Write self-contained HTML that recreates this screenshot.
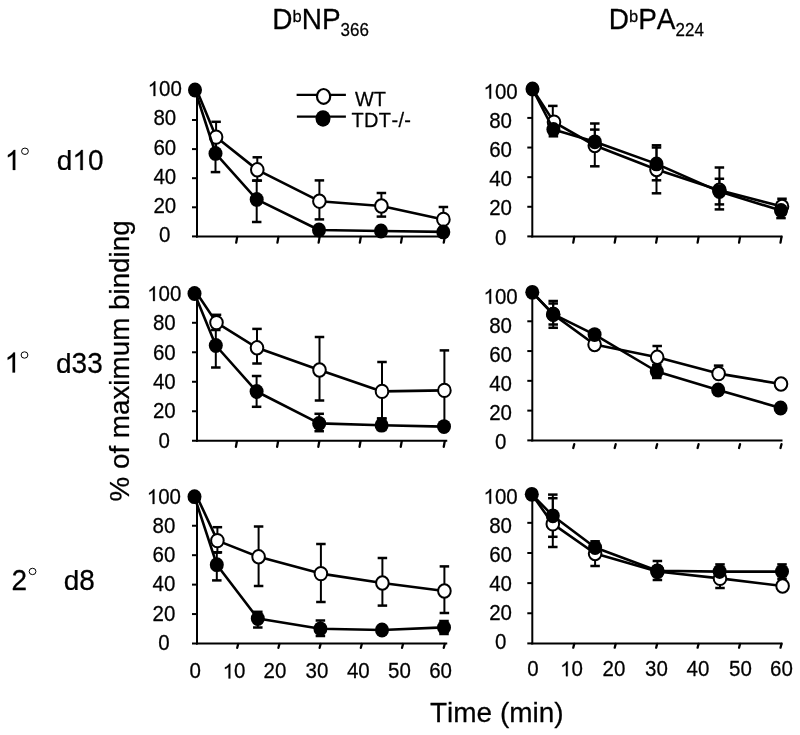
<!DOCTYPE html>
<html><head><meta charset="utf-8"><title>Chart</title>
<style>
html,body{margin:0;padding:0;background:#fff;}
body{width:800px;height:735px;overflow:hidden;position:relative;font-family:"Liberation Sans", sans-serif;color:#000;}
svg{position:absolute;left:0;top:0;will-change:transform;}
text{font-kerning:none;}
.t{position:absolute;white-space:nowrap;line-height:1;font-family:"Liberation Sans", sans-serif;}
</style></head><body>
<svg width="800" height="735" viewBox="0 0 800 735" font-family='"Liberation Sans", sans-serif' stroke="#000" fill="#000">
<g stroke="#000">
<line x1="197" y1="89.9" x2="197" y2="237.4" stroke-width="2.0"/>
<line x1="196" y1="236.4" x2="447.25" y2="236.4" stroke-width="2.0"/>
<line x1="192" y1="236.4" x2="197" y2="236.4" stroke-width="2.0"/>
<line x1="192" y1="207.3" x2="197" y2="207.3" stroke-width="2.0"/>
<line x1="192" y1="178.2" x2="197" y2="178.2" stroke-width="2.0"/>
<line x1="192" y1="149.1" x2="197" y2="149.1" stroke-width="2.0"/>
<line x1="192" y1="120" x2="197" y2="120" stroke-width="2.0"/>
<line x1="192" y1="90.9" x2="197" y2="90.9" stroke-width="2.0"/>
<line x1="237.21" y1="236.9" x2="236.21" y2="242.6" stroke-width="2.3" stroke-linecap="round"/>
<line x1="278.42" y1="236.9" x2="277.42" y2="242.6" stroke-width="2.3" stroke-linecap="round"/>
<line x1="319.62" y1="236.9" x2="318.62" y2="242.6" stroke-width="2.3" stroke-linecap="round"/>
<line x1="360.83" y1="236.9" x2="359.83" y2="242.6" stroke-width="2.3" stroke-linecap="round"/>
<line x1="402.04" y1="236.9" x2="401.04" y2="242.6" stroke-width="2.3" stroke-linecap="round"/>
<line x1="444.75" y1="236.9" x2="443.75" y2="242.6" stroke-width="2.3" stroke-linecap="round"/>
<text stroke-width="0.25" stroke-linejoin="round" transform="translate(159.1,242.3) scale(1,1.035)" font-size="20.5">0</text>
<text stroke-width="0.25" stroke-linejoin="round" transform="translate(153.4,213.06) scale(1,1.035)" font-size="20.5">20</text>
<text stroke-width="0.25" stroke-linejoin="round" transform="translate(153.4,183.82) scale(1,1.035)" font-size="20.5">40</text>
<text stroke-width="0.25" stroke-linejoin="round" transform="translate(153.4,154.58) scale(1,1.035)" font-size="20.5">60</text>
<text stroke-width="0.25" stroke-linejoin="round" transform="translate(153.4,125.34) scale(1,1.035)" font-size="20.5">80</text>
<path stroke-width="25.0" stroke-linejoin="round" transform="translate(147.7,96.1) scale(0.01001,-0.01001)" d="M763 0H583V1147Q518 1085 412.5 1023Q307 961 223 930V1104Q374 1175 487 1276Q600 1377 647 1472H763Z"/>
<text stroke-width="0.25" stroke-linejoin="round" transform="translate(159.1,96.1) scale(1,1.035)" font-size="20.5">00</text>
<line x1="216.1" y1="121.8" x2="216.1" y2="152.4" stroke-width="2.0"/>
<line x1="211.35" y1="121.8" x2="220.85" y2="121.8" stroke-width="2.5"/>
<line x1="211.35" y1="152.4" x2="220.85" y2="152.4" stroke-width="2.5"/>
<line x1="257.3" y1="157.3" x2="257.3" y2="180.6" stroke-width="2.0"/>
<line x1="252.55" y1="157.3" x2="262.05" y2="157.3" stroke-width="2.5"/>
<line x1="252.55" y1="180.6" x2="262.05" y2="180.6" stroke-width="2.5"/>
<line x1="319.4" y1="180.4" x2="319.4" y2="219.4" stroke-width="2.0"/>
<line x1="314.65" y1="180.4" x2="324.15" y2="180.4" stroke-width="2.5"/>
<line x1="314.65" y1="219.4" x2="324.15" y2="219.4" stroke-width="2.5"/>
<line x1="381.4" y1="193" x2="381.4" y2="216.6" stroke-width="2.0"/>
<line x1="376.65" y1="193" x2="386.15" y2="193" stroke-width="2.5"/>
<line x1="376.65" y1="216.6" x2="386.15" y2="216.6" stroke-width="2.5"/>
<line x1="443.4" y1="207" x2="443.4" y2="231" stroke-width="2.0"/>
<line x1="438.65" y1="207" x2="448.15" y2="207" stroke-width="2.5"/>
<line x1="438.65" y1="231" x2="448.15" y2="231" stroke-width="2.5"/>
<line x1="215.5" y1="136" x2="215.5" y2="172.1" stroke-width="2.0"/>
<line x1="210.75" y1="136" x2="220.25" y2="136" stroke-width="2.5"/>
<line x1="210.75" y1="172.1" x2="220.25" y2="172.1" stroke-width="2.5"/>
<line x1="256.7" y1="180.6" x2="256.7" y2="222" stroke-width="2.0"/>
<line x1="251.95" y1="180.6" x2="261.45" y2="180.6" stroke-width="2.5"/>
<line x1="251.95" y1="222" x2="261.45" y2="222" stroke-width="2.5"/>
<polyline points="197,90.8 216.1,137.1 257.3,169.8 319.4,201.2 381.4,206 443.4,219.4" fill="none" stroke-width="2.6" stroke-linejoin="round"/>
<ellipse cx="216.1" cy="137.1" rx="6.3" ry="6.7" fill="#fff" stroke-width="2.0"/>
<ellipse cx="257.3" cy="169.8" rx="6.3" ry="6.7" fill="#fff" stroke-width="2.0"/>
<ellipse cx="319.4" cy="201.2" rx="6.3" ry="6.7" fill="#fff" stroke-width="2.0"/>
<ellipse cx="381.4" cy="206" rx="6.3" ry="6.7" fill="#fff" stroke-width="2.0"/>
<ellipse cx="443.4" cy="219.4" rx="6.3" ry="6.7" fill="#fff" stroke-width="2.0"/>
<polyline points="195,90 215.5,153.4 256.7,199.4 319,230 381,231 443.3,231.9" fill="none" stroke-width="2.6" stroke-linejoin="round"/>
<ellipse cx="195" cy="90" rx="7.0" ry="7.4" fill="#000" stroke="none"/>
<ellipse cx="215.5" cy="153.4" rx="7.0" ry="7.4" fill="#000" stroke="none"/>
<ellipse cx="256.7" cy="199.4" rx="7.0" ry="7.4" fill="#000" stroke="none"/>
<ellipse cx="319" cy="230" rx="7.0" ry="7.4" fill="#000" stroke="none"/>
<ellipse cx="381" cy="231" rx="7.0" ry="7.4" fill="#000" stroke="none"/>
<ellipse cx="443.3" cy="231.9" rx="7.0" ry="7.4" fill="#000" stroke="none"/>
<line x1="532.3" y1="87.3" x2="532.3" y2="237.4" stroke-width="2.0"/>
<line x1="531.3" y1="236.4" x2="782.5" y2="236.4" stroke-width="2.0"/>
<line x1="527.3" y1="236.4" x2="532.3" y2="236.4" stroke-width="2.0"/>
<line x1="527.3" y1="206.78" x2="532.3" y2="206.78" stroke-width="2.0"/>
<line x1="527.3" y1="177.16" x2="532.3" y2="177.16" stroke-width="2.0"/>
<line x1="527.3" y1="147.54" x2="532.3" y2="147.54" stroke-width="2.0"/>
<line x1="527.3" y1="117.92" x2="532.3" y2="117.92" stroke-width="2.0"/>
<line x1="527.3" y1="88.3" x2="532.3" y2="88.3" stroke-width="2.0"/>
<line x1="574.25" y1="236.9" x2="573.25" y2="242.6" stroke-width="2.3" stroke-linecap="round"/>
<line x1="615.7" y1="236.9" x2="614.7" y2="242.6" stroke-width="2.3" stroke-linecap="round"/>
<line x1="657.15" y1="236.9" x2="656.15" y2="242.6" stroke-width="2.3" stroke-linecap="round"/>
<line x1="698.6" y1="236.9" x2="697.6" y2="242.6" stroke-width="2.3" stroke-linecap="round"/>
<line x1="740.05" y1="236.9" x2="739.05" y2="242.6" stroke-width="2.3" stroke-linecap="round"/>
<line x1="781.5" y1="236.9" x2="780.5" y2="242.6" stroke-width="2.3" stroke-linecap="round"/>
<text stroke-width="0.25" stroke-linejoin="round" transform="translate(494.9,244.7) scale(1,1.035)" font-size="20.5">0</text>
<text stroke-width="0.25" stroke-linejoin="round" transform="translate(489.2,215.49) scale(1,1.035)" font-size="20.5">20</text>
<text stroke-width="0.25" stroke-linejoin="round" transform="translate(489.2,186.28) scale(1,1.035)" font-size="20.5">40</text>
<text stroke-width="0.25" stroke-linejoin="round" transform="translate(489.2,157.07) scale(1,1.035)" font-size="20.5">60</text>
<text stroke-width="0.25" stroke-linejoin="round" transform="translate(489.2,127.86) scale(1,1.035)" font-size="20.5">80</text>
<path stroke-width="25.0" stroke-linejoin="round" transform="translate(483.5,98.65) scale(0.01001,-0.01001)" d="M763 0H583V1147Q518 1085 412.5 1023Q307 961 223 930V1104Q374 1175 487 1276Q600 1377 647 1472H763Z"/>
<text stroke-width="0.25" stroke-linejoin="round" transform="translate(494.9,98.65) scale(1,1.035)" font-size="20.5">00</text>
<line x1="552.8" y1="105.9" x2="552.8" y2="128" stroke-width="2.0"/>
<line x1="548.05" y1="105.9" x2="557.55" y2="105.9" stroke-width="2.5"/>
<line x1="548.05" y1="128" x2="557.55" y2="128" stroke-width="2.5"/>
<line x1="594.8" y1="123.5" x2="594.8" y2="166.3" stroke-width="2.0"/>
<line x1="590.05" y1="123.5" x2="599.55" y2="123.5" stroke-width="2.5"/>
<line x1="590.05" y1="166.3" x2="599.55" y2="166.3" stroke-width="2.5"/>
<line x1="656.5" y1="145.3" x2="656.5" y2="193.3" stroke-width="2.0"/>
<line x1="651.75" y1="145.3" x2="661.25" y2="145.3" stroke-width="2.5"/>
<line x1="651.75" y1="193.3" x2="661.25" y2="193.3" stroke-width="2.5"/>
<line x1="719.4" y1="167.5" x2="719.4" y2="209.4" stroke-width="2.0"/>
<line x1="714.65" y1="167.5" x2="724.15" y2="167.5" stroke-width="2.5"/>
<line x1="714.65" y1="209.4" x2="724.15" y2="209.4" stroke-width="2.5"/>
<line x1="782" y1="198.75" x2="782" y2="214" stroke-width="2.0"/>
<line x1="777.25" y1="198.75" x2="786.75" y2="198.75" stroke-width="2.5"/>
<line x1="777.25" y1="214" x2="786.75" y2="214" stroke-width="2.5"/>
<line x1="553.4" y1="122" x2="553.4" y2="136.3" stroke-width="2.0"/>
<line x1="548.65" y1="122" x2="558.15" y2="122" stroke-width="2.5"/>
<line x1="548.65" y1="136.3" x2="558.15" y2="136.3" stroke-width="2.5"/>
<line x1="594.8" y1="129.6" x2="594.8" y2="149" stroke-width="2.0"/>
<line x1="590.05" y1="129.6" x2="599.55" y2="129.6" stroke-width="2.5"/>
<line x1="590.05" y1="149" x2="599.55" y2="149" stroke-width="2.5"/>
<line x1="656.5" y1="147.5" x2="656.5" y2="180.3" stroke-width="2.0"/>
<line x1="651.75" y1="147.5" x2="661.25" y2="147.5" stroke-width="2.5"/>
<line x1="651.75" y1="180.3" x2="661.25" y2="180.3" stroke-width="2.5"/>
<line x1="719.4" y1="178.75" x2="719.4" y2="204.4" stroke-width="2.0"/>
<line x1="714.65" y1="178.75" x2="724.15" y2="178.75" stroke-width="2.5"/>
<line x1="714.65" y1="204.4" x2="724.15" y2="204.4" stroke-width="2.5"/>
<line x1="781" y1="203" x2="781" y2="218.1" stroke-width="2.0"/>
<line x1="776.25" y1="203" x2="785.75" y2="203" stroke-width="2.5"/>
<line x1="776.25" y1="218.1" x2="785.75" y2="218.1" stroke-width="2.5"/>
<polyline points="532.5,89 554,122.1 594.8,145.5 656.5,169.5 719.4,190.2 782,206.5" fill="none" stroke-width="2.6" stroke-linejoin="round"/>
<ellipse cx="554" cy="122.1" rx="6.3" ry="6.7" fill="#fff" stroke-width="2.0"/>
<ellipse cx="594.8" cy="145.5" rx="6.3" ry="6.7" fill="#fff" stroke-width="2.0"/>
<ellipse cx="656.5" cy="169.5" rx="6.3" ry="6.7" fill="#fff" stroke-width="2.0"/>
<ellipse cx="719.4" cy="190.2" rx="6.3" ry="6.7" fill="#fff" stroke-width="2.0"/>
<ellipse cx="782" cy="206.5" rx="6.3" ry="6.7" fill="#fff" stroke-width="2.0"/>
<polyline points="532.5,89 553.4,129.5 594.8,141.8 656.5,163.9 719.4,191.6 781,210.5" fill="none" stroke-width="2.6" stroke-linejoin="round"/>
<ellipse cx="532.5" cy="89" rx="7.0" ry="7.4" fill="#000" stroke="none"/>
<ellipse cx="553.4" cy="129.5" rx="7.0" ry="7.4" fill="#000" stroke="none"/>
<ellipse cx="594.8" cy="141.8" rx="7.0" ry="7.4" fill="#000" stroke="none"/>
<ellipse cx="656.5" cy="163.9" rx="7.0" ry="7.4" fill="#000" stroke="none"/>
<ellipse cx="719.4" cy="191.6" rx="7.0" ry="7.4" fill="#000" stroke="none"/>
<ellipse cx="781" cy="210.5" rx="7.0" ry="7.4" fill="#000" stroke="none"/>
<line x1="197" y1="292.3" x2="197" y2="441.75" stroke-width="2.0"/>
<line x1="196" y1="440.75" x2="447.25" y2="440.75" stroke-width="2.0"/>
<line x1="192" y1="440.75" x2="197" y2="440.75" stroke-width="2.0"/>
<line x1="192" y1="411.26" x2="197" y2="411.26" stroke-width="2.0"/>
<line x1="192" y1="381.77" x2="197" y2="381.77" stroke-width="2.0"/>
<line x1="192" y1="352.28" x2="197" y2="352.28" stroke-width="2.0"/>
<line x1="192" y1="322.79" x2="197" y2="322.79" stroke-width="2.0"/>
<line x1="192" y1="293.3" x2="197" y2="293.3" stroke-width="2.0"/>
<line x1="236.91" y1="441.25" x2="235.91" y2="446.75" stroke-width="2.3" stroke-linecap="round"/>
<line x1="278.12" y1="441.25" x2="277.12" y2="446.75" stroke-width="2.3" stroke-linecap="round"/>
<line x1="319.32" y1="441.25" x2="318.32" y2="446.75" stroke-width="2.3" stroke-linecap="round"/>
<line x1="360.53" y1="441.25" x2="359.53" y2="446.75" stroke-width="2.3" stroke-linecap="round"/>
<line x1="401.74" y1="441.25" x2="400.74" y2="446.75" stroke-width="2.3" stroke-linecap="round"/>
<line x1="444.75" y1="441.25" x2="443.75" y2="446.75" stroke-width="2.3" stroke-linecap="round"/>
<text stroke-width="0.25" stroke-linejoin="round" transform="translate(158.6,447.8) scale(1,1.035)" font-size="20.5">0</text>
<text stroke-width="0.25" stroke-linejoin="round" transform="translate(152.9,418.46) scale(1,1.035)" font-size="20.5">20</text>
<text stroke-width="0.25" stroke-linejoin="round" transform="translate(152.9,389.12) scale(1,1.035)" font-size="20.5">40</text>
<text stroke-width="0.25" stroke-linejoin="round" transform="translate(152.9,359.78) scale(1,1.035)" font-size="20.5">60</text>
<text stroke-width="0.25" stroke-linejoin="round" transform="translate(152.9,330.44) scale(1,1.035)" font-size="20.5">80</text>
<path stroke-width="25.0" stroke-linejoin="round" transform="translate(147.2,301.1) scale(0.01001,-0.01001)" d="M763 0H583V1147Q518 1085 412.5 1023Q307 961 223 930V1104Q374 1175 487 1276Q600 1377 647 1472H763Z"/>
<text stroke-width="0.25" stroke-linejoin="round" transform="translate(158.6,301.1) scale(1,1.035)" font-size="20.5">00</text>
<line x1="216.5" y1="314.8" x2="216.5" y2="326" stroke-width="2.0"/>
<line x1="211.75" y1="314.8" x2="221.25" y2="314.8" stroke-width="2.5"/>
<line x1="211.75" y1="326" x2="221.25" y2="326" stroke-width="2.5"/>
<line x1="257" y1="328.9" x2="257" y2="363.5" stroke-width="2.0"/>
<line x1="252.25" y1="328.9" x2="261.75" y2="328.9" stroke-width="2.5"/>
<line x1="252.25" y1="363.5" x2="261.75" y2="363.5" stroke-width="2.5"/>
<line x1="319.5" y1="337" x2="319.5" y2="400.5" stroke-width="2.0"/>
<line x1="314.75" y1="337" x2="324.25" y2="337" stroke-width="2.5"/>
<line x1="314.75" y1="400.5" x2="324.25" y2="400.5" stroke-width="2.5"/>
<line x1="382" y1="362" x2="382" y2="418.5" stroke-width="2.0"/>
<line x1="377.25" y1="362" x2="386.75" y2="362" stroke-width="2.5"/>
<line x1="377.25" y1="418.5" x2="386.75" y2="418.5" stroke-width="2.5"/>
<line x1="444.4" y1="350.4" x2="444.4" y2="430" stroke-width="2.0"/>
<line x1="439.65" y1="350.4" x2="449.15" y2="350.4" stroke-width="2.5"/>
<line x1="439.65" y1="430" x2="449.15" y2="430" stroke-width="2.5"/>
<line x1="215.8" y1="330" x2="215.8" y2="367.5" stroke-width="2.0"/>
<line x1="211.05" y1="330" x2="220.55" y2="330" stroke-width="2.5"/>
<line x1="211.05" y1="367.5" x2="220.55" y2="367.5" stroke-width="2.5"/>
<line x1="256.6" y1="376" x2="256.6" y2="406.8" stroke-width="2.0"/>
<line x1="251.85" y1="376" x2="261.35" y2="376" stroke-width="2.5"/>
<line x1="251.85" y1="406.8" x2="261.35" y2="406.8" stroke-width="2.5"/>
<line x1="319.2" y1="413.8" x2="319.2" y2="431.2" stroke-width="2.0"/>
<line x1="314.45" y1="413.8" x2="323.95" y2="413.8" stroke-width="2.5"/>
<line x1="314.45" y1="431.2" x2="323.95" y2="431.2" stroke-width="2.5"/>
<line x1="381.6" y1="418.5" x2="381.6" y2="430" stroke-width="2.0"/>
<line x1="376.85" y1="418.5" x2="386.35" y2="418.5" stroke-width="2.5"/>
<line x1="376.85" y1="430" x2="386.35" y2="430" stroke-width="2.5"/>
<polyline points="197,293.5 216.5,322.6 257,347.8 319.5,370 382,391.4 444.4,390.4" fill="none" stroke-width="2.6" stroke-linejoin="round"/>
<ellipse cx="216.5" cy="322.6" rx="6.3" ry="6.7" fill="#fff" stroke-width="2.0"/>
<ellipse cx="257" cy="347.8" rx="6.3" ry="6.7" fill="#fff" stroke-width="2.0"/>
<ellipse cx="319.5" cy="370" rx="6.3" ry="6.7" fill="#fff" stroke-width="2.0"/>
<ellipse cx="382" cy="391.4" rx="6.3" ry="6.7" fill="#fff" stroke-width="2.0"/>
<ellipse cx="444.4" cy="390.4" rx="6.3" ry="6.7" fill="#fff" stroke-width="2.0"/>
<polyline points="194.5,293.5 215.8,345.5 256.6,391.5 319.2,423.4 381.6,425.2 444,426.6" fill="none" stroke-width="2.6" stroke-linejoin="round"/>
<ellipse cx="194.5" cy="293.5" rx="7.0" ry="7.4" fill="#000" stroke="none"/>
<ellipse cx="215.8" cy="345.5" rx="7.0" ry="7.4" fill="#000" stroke="none"/>
<ellipse cx="256.6" cy="391.5" rx="7.0" ry="7.4" fill="#000" stroke="none"/>
<ellipse cx="319.2" cy="423.4" rx="7.0" ry="7.4" fill="#000" stroke="none"/>
<ellipse cx="381.6" cy="425.2" rx="7.0" ry="7.4" fill="#000" stroke="none"/>
<ellipse cx="444" cy="426.6" rx="7.0" ry="7.4" fill="#000" stroke="none"/>
<line x1="532.3" y1="290.5" x2="532.3" y2="441.4" stroke-width="2.0"/>
<line x1="531.3" y1="440.4" x2="782.5" y2="440.4" stroke-width="2.0"/>
<line x1="527.3" y1="440.4" x2="532.3" y2="440.4" stroke-width="2.0"/>
<line x1="527.3" y1="410.62" x2="532.3" y2="410.62" stroke-width="2.0"/>
<line x1="527.3" y1="380.84" x2="532.3" y2="380.84" stroke-width="2.0"/>
<line x1="527.3" y1="351.06" x2="532.3" y2="351.06" stroke-width="2.0"/>
<line x1="527.3" y1="321.28" x2="532.3" y2="321.28" stroke-width="2.0"/>
<line x1="527.3" y1="291.5" x2="532.3" y2="291.5" stroke-width="2.0"/>
<line x1="574.25" y1="444.2" x2="573.25" y2="448" stroke-width="2.3" stroke-linecap="round"/>
<line x1="615.7" y1="444.2" x2="614.7" y2="448" stroke-width="2.3" stroke-linecap="round"/>
<line x1="657.15" y1="444.2" x2="656.15" y2="448" stroke-width="2.3" stroke-linecap="round"/>
<line x1="698.6" y1="444.2" x2="697.6" y2="448" stroke-width="2.3" stroke-linecap="round"/>
<line x1="740.05" y1="444.2" x2="739.05" y2="448" stroke-width="2.3" stroke-linecap="round"/>
<line x1="781.5" y1="444.2" x2="780.5" y2="448" stroke-width="2.3" stroke-linecap="round"/>
<text stroke-width="0.25" stroke-linejoin="round" transform="translate(494.9,449.2) scale(1,1.035)" font-size="20.5">0</text>
<text stroke-width="0.25" stroke-linejoin="round" transform="translate(489.2,420.1) scale(1,1.035)" font-size="20.5">20</text>
<text stroke-width="0.25" stroke-linejoin="round" transform="translate(489.2,391) scale(1,1.035)" font-size="20.5">40</text>
<text stroke-width="0.25" stroke-linejoin="round" transform="translate(489.2,361.9) scale(1,1.035)" font-size="20.5">60</text>
<text stroke-width="0.25" stroke-linejoin="round" transform="translate(489.2,332.8) scale(1,1.035)" font-size="20.5">80</text>
<path stroke-width="25.0" stroke-linejoin="round" transform="translate(483.5,303.7) scale(0.01001,-0.01001)" d="M763 0H583V1147Q518 1085 412.5 1023Q307 961 223 930V1104Q374 1175 487 1276Q600 1377 647 1472H763Z"/>
<text stroke-width="0.25" stroke-linejoin="round" transform="translate(494.9,303.7) scale(1,1.035)" font-size="20.5">00</text>
<line x1="553.2" y1="301" x2="553.2" y2="327.8" stroke-width="2.0"/>
<line x1="548.45" y1="301" x2="557.95" y2="301" stroke-width="2.5"/>
<line x1="548.45" y1="327.8" x2="557.95" y2="327.8" stroke-width="2.5"/>
<line x1="657.2" y1="346" x2="657.2" y2="368.6" stroke-width="2.0"/>
<line x1="652.45" y1="346" x2="661.95" y2="346" stroke-width="2.5"/>
<line x1="652.45" y1="368.6" x2="661.95" y2="368.6" stroke-width="2.5"/>
<line x1="718.6" y1="365.6" x2="718.6" y2="376" stroke-width="2.0"/>
<line x1="713.85" y1="365.6" x2="723.35" y2="365.6" stroke-width="2.5"/>
<line x1="713.85" y1="376" x2="723.35" y2="376" stroke-width="2.5"/>
<line x1="553.2" y1="303.5" x2="553.2" y2="324.5" stroke-width="2.0"/>
<line x1="548.45" y1="303.5" x2="557.95" y2="303.5" stroke-width="2.5"/>
<line x1="548.45" y1="324.5" x2="557.95" y2="324.5" stroke-width="2.5"/>
<line x1="656.8" y1="365" x2="656.8" y2="378" stroke-width="2.0"/>
<line x1="652.05" y1="365" x2="661.55" y2="365" stroke-width="2.5"/>
<line x1="652.05" y1="378" x2="661.55" y2="378" stroke-width="2.5"/>
<polyline points="532.3,292.3 553.2,314.4 594.6,344.5 657.2,357.3 718.6,373.6 781,384" fill="none" stroke-width="2.6" stroke-linejoin="round"/>
<ellipse cx="553.2" cy="314.4" rx="6.3" ry="6.7" fill="#fff" stroke-width="2.0"/>
<ellipse cx="594.6" cy="344.5" rx="6.3" ry="6.7" fill="#fff" stroke-width="2.0"/>
<ellipse cx="657.2" cy="357.3" rx="6.3" ry="6.7" fill="#fff" stroke-width="2.0"/>
<ellipse cx="718.6" cy="373.6" rx="6.3" ry="6.7" fill="#fff" stroke-width="2.0"/>
<ellipse cx="781" cy="384" rx="6.3" ry="6.7" fill="#fff" stroke-width="2.0"/>
<polyline points="532.3,292.3 553.2,314.2 594.6,334.6 656.8,371.5 718.2,390 780.6,408" fill="none" stroke-width="2.6" stroke-linejoin="round"/>
<ellipse cx="532.3" cy="292.3" rx="7.0" ry="7.4" fill="#000" stroke="none"/>
<ellipse cx="553.2" cy="314.2" rx="7.0" ry="7.4" fill="#000" stroke="none"/>
<ellipse cx="594.6" cy="334.6" rx="7.0" ry="7.4" fill="#000" stroke="none"/>
<ellipse cx="656.8" cy="371.5" rx="7.0" ry="7.4" fill="#000" stroke="none"/>
<ellipse cx="718.2" cy="390" rx="7.0" ry="7.4" fill="#000" stroke="none"/>
<ellipse cx="780.6" cy="408" rx="7.0" ry="7.4" fill="#000" stroke="none"/>
<line x1="197" y1="495.3" x2="197" y2="644.5" stroke-width="2.0"/>
<line x1="196" y1="643.5" x2="447.25" y2="643.5" stroke-width="2.0"/>
<line x1="192" y1="643.5" x2="197" y2="643.5" stroke-width="2.0"/>
<line x1="192" y1="614.06" x2="197" y2="614.06" stroke-width="2.0"/>
<line x1="192" y1="584.62" x2="197" y2="584.62" stroke-width="2.0"/>
<line x1="192" y1="555.18" x2="197" y2="555.18" stroke-width="2.0"/>
<line x1="192" y1="525.74" x2="197" y2="525.74" stroke-width="2.0"/>
<line x1="192" y1="496.3" x2="197" y2="496.3" stroke-width="2.0"/>
<line x1="238.21" y1="644" x2="237.21" y2="647.8" stroke-width="2.3" stroke-linecap="round"/>
<line x1="279.42" y1="644" x2="278.42" y2="647.8" stroke-width="2.3" stroke-linecap="round"/>
<line x1="320.62" y1="644" x2="319.62" y2="647.8" stroke-width="2.3" stroke-linecap="round"/>
<line x1="361.83" y1="644" x2="360.83" y2="647.8" stroke-width="2.3" stroke-linecap="round"/>
<line x1="403.04" y1="644" x2="402.04" y2="647.8" stroke-width="2.3" stroke-linecap="round"/>
<line x1="444.75" y1="644" x2="443.75" y2="647.8" stroke-width="2.3" stroke-linecap="round"/>
<text stroke-width="0.25" stroke-linejoin="round" transform="translate(158.2,649.8) scale(1,1.035)" font-size="20.5">0</text>
<text stroke-width="0.25" stroke-linejoin="round" transform="translate(152.5,620.64) scale(1,1.035)" font-size="20.5">20</text>
<text stroke-width="0.25" stroke-linejoin="round" transform="translate(152.5,591.48) scale(1,1.035)" font-size="20.5">40</text>
<text stroke-width="0.25" stroke-linejoin="round" transform="translate(152.5,562.32) scale(1,1.035)" font-size="20.5">60</text>
<text stroke-width="0.25" stroke-linejoin="round" transform="translate(152.5,533.16) scale(1,1.035)" font-size="20.5">80</text>
<path stroke-width="25.0" stroke-linejoin="round" transform="translate(146.8,504) scale(0.01001,-0.01001)" d="M763 0H583V1147Q518 1085 412.5 1023Q307 961 223 930V1104Q374 1175 487 1276Q600 1377 647 1472H763Z"/>
<text stroke-width="0.25" stroke-linejoin="round" transform="translate(158.2,504) scale(1,1.035)" font-size="20.5">00</text>
<text stroke-width="0.25" stroke-linejoin="round" transform="translate(189.5,678.4) scale(1,1.035)" font-size="20.5">0</text>
<path stroke-width="25.0" stroke-linejoin="round" transform="translate(222.7,678.4) scale(0.01001,-0.01001)" d="M763 0H583V1147Q518 1085 412.5 1023Q307 961 223 930V1104Q374 1175 487 1276Q600 1377 647 1472H763Z"/>
<text stroke-width="0.25" stroke-linejoin="round" transform="translate(234.1,678.4) scale(1,1.035)" font-size="20.5">0</text>
<text stroke-width="0.25" stroke-linejoin="round" transform="translate(263.6,678.4) scale(1,1.035)" font-size="20.5">20</text>
<text stroke-width="0.25" stroke-linejoin="round" transform="translate(305.6,678.4) scale(1,1.035)" font-size="20.5">30</text>
<text stroke-width="0.25" stroke-linejoin="round" transform="translate(346.9,678.4) scale(1,1.035)" font-size="20.5">40</text>
<text stroke-width="0.25" stroke-linejoin="round" transform="translate(388,678.4) scale(1,1.035)" font-size="20.5">50</text>
<text stroke-width="0.25" stroke-linejoin="round" transform="translate(429.2,678.4) scale(1,1.035)" font-size="20.5">60</text>
<line x1="217.4" y1="527.2" x2="217.4" y2="552.3" stroke-width="2.0"/>
<line x1="212.65" y1="527.2" x2="222.15" y2="527.2" stroke-width="2.5"/>
<line x1="212.65" y1="552.3" x2="222.15" y2="552.3" stroke-width="2.5"/>
<line x1="258.6" y1="526.5" x2="258.6" y2="586" stroke-width="2.0"/>
<line x1="253.85" y1="526.5" x2="263.35" y2="526.5" stroke-width="2.5"/>
<line x1="253.85" y1="586" x2="263.35" y2="586" stroke-width="2.5"/>
<line x1="320.9" y1="544" x2="320.9" y2="602" stroke-width="2.0"/>
<line x1="316.15" y1="544" x2="325.65" y2="544" stroke-width="2.5"/>
<line x1="316.15" y1="602" x2="325.65" y2="602" stroke-width="2.5"/>
<line x1="382.4" y1="558" x2="382.4" y2="605.6" stroke-width="2.0"/>
<line x1="377.65" y1="558" x2="387.15" y2="558" stroke-width="2.5"/>
<line x1="377.65" y1="605.6" x2="387.15" y2="605.6" stroke-width="2.5"/>
<line x1="444.4" y1="566.4" x2="444.4" y2="613" stroke-width="2.0"/>
<line x1="439.65" y1="566.4" x2="449.15" y2="566.4" stroke-width="2.5"/>
<line x1="439.65" y1="613" x2="449.15" y2="613" stroke-width="2.5"/>
<line x1="216.8" y1="552.6" x2="216.8" y2="580.4" stroke-width="2.0"/>
<line x1="212.05" y1="552.6" x2="221.55" y2="552.6" stroke-width="2.5"/>
<line x1="212.05" y1="580.4" x2="221.55" y2="580.4" stroke-width="2.5"/>
<line x1="257.8" y1="611.8" x2="257.8" y2="627.5" stroke-width="2.0"/>
<line x1="253.05" y1="611.8" x2="262.55" y2="611.8" stroke-width="2.5"/>
<line x1="253.05" y1="627.5" x2="262.55" y2="627.5" stroke-width="2.5"/>
<line x1="320.4" y1="620.5" x2="320.4" y2="636" stroke-width="2.0"/>
<line x1="315.65" y1="620.5" x2="325.15" y2="620.5" stroke-width="2.5"/>
<line x1="315.65" y1="636" x2="325.15" y2="636" stroke-width="2.5"/>
<line x1="444" y1="621" x2="444" y2="634" stroke-width="2.0"/>
<line x1="439.25" y1="621" x2="448.75" y2="621" stroke-width="2.5"/>
<line x1="439.25" y1="634" x2="448.75" y2="634" stroke-width="2.5"/>
<polyline points="197,496.7 217.4,540.6 258.6,556.8 320.9,573.6 382.4,583 444.4,591" fill="none" stroke-width="2.6" stroke-linejoin="round"/>
<ellipse cx="217.4" cy="540.6" rx="6.3" ry="6.7" fill="#fff" stroke-width="2.0"/>
<ellipse cx="258.6" cy="556.8" rx="6.3" ry="6.7" fill="#fff" stroke-width="2.0"/>
<ellipse cx="320.9" cy="573.6" rx="6.3" ry="6.7" fill="#fff" stroke-width="2.0"/>
<ellipse cx="382.4" cy="583" rx="6.3" ry="6.7" fill="#fff" stroke-width="2.0"/>
<ellipse cx="444.4" cy="591" rx="6.3" ry="6.7" fill="#fff" stroke-width="2.0"/>
<polyline points="194.5,496.7 216.8,564.7 257.8,618.5 320.4,628.8 382,630 444,627.4" fill="none" stroke-width="2.6" stroke-linejoin="round"/>
<ellipse cx="194.5" cy="496.7" rx="7.0" ry="7.4" fill="#000" stroke="none"/>
<ellipse cx="216.8" cy="564.7" rx="7.0" ry="7.4" fill="#000" stroke="none"/>
<ellipse cx="257.8" cy="618.5" rx="7.0" ry="7.4" fill="#000" stroke="none"/>
<ellipse cx="320.4" cy="628.8" rx="7.0" ry="7.4" fill="#000" stroke="none"/>
<ellipse cx="382" cy="630" rx="7.0" ry="7.4" fill="#000" stroke="none"/>
<ellipse cx="444" cy="627.4" rx="7.0" ry="7.4" fill="#000" stroke="none"/>
<line x1="532.3" y1="491.7" x2="532.3" y2="644.4" stroke-width="2.0"/>
<line x1="531.3" y1="643.4" x2="782.5" y2="643.4" stroke-width="2.0"/>
<line x1="527.3" y1="643.4" x2="532.3" y2="643.4" stroke-width="2.0"/>
<line x1="527.3" y1="613.26" x2="532.3" y2="613.26" stroke-width="2.0"/>
<line x1="527.3" y1="583.12" x2="532.3" y2="583.12" stroke-width="2.0"/>
<line x1="527.3" y1="552.98" x2="532.3" y2="552.98" stroke-width="2.0"/>
<line x1="527.3" y1="522.84" x2="532.3" y2="522.84" stroke-width="2.0"/>
<line x1="527.3" y1="492.7" x2="532.3" y2="492.7" stroke-width="2.0"/>
<line x1="574.25" y1="643.9" x2="573.25" y2="647.7" stroke-width="2.3" stroke-linecap="round"/>
<line x1="615.7" y1="643.9" x2="614.7" y2="647.7" stroke-width="2.3" stroke-linecap="round"/>
<line x1="657.15" y1="643.9" x2="656.15" y2="647.7" stroke-width="2.3" stroke-linecap="round"/>
<line x1="698.6" y1="643.9" x2="697.6" y2="647.7" stroke-width="2.3" stroke-linecap="round"/>
<line x1="740.05" y1="643.9" x2="739.05" y2="647.7" stroke-width="2.3" stroke-linecap="round"/>
<line x1="781.5" y1="643.9" x2="780.5" y2="647.7" stroke-width="2.3" stroke-linecap="round"/>
<text stroke-width="0.25" stroke-linejoin="round" transform="translate(494.9,648.7) scale(1,1.035)" font-size="20.5">0</text>
<text stroke-width="0.25" stroke-linejoin="round" transform="translate(489.2,619.7) scale(1,1.035)" font-size="20.5">20</text>
<text stroke-width="0.25" stroke-linejoin="round" transform="translate(489.2,590.7) scale(1,1.035)" font-size="20.5">40</text>
<text stroke-width="0.25" stroke-linejoin="round" transform="translate(489.2,561.7) scale(1,1.035)" font-size="20.5">60</text>
<text stroke-width="0.25" stroke-linejoin="round" transform="translate(489.2,532.7) scale(1,1.035)" font-size="20.5">80</text>
<path stroke-width="25.0" stroke-linejoin="round" transform="translate(483.5,503.7) scale(0.01001,-0.01001)" d="M763 0H583V1147Q518 1085 412.5 1023Q307 961 223 930V1104Q374 1175 487 1276Q600 1377 647 1472H763Z"/>
<text stroke-width="0.25" stroke-linejoin="round" transform="translate(494.9,503.7) scale(1,1.035)" font-size="20.5">00</text>
<text stroke-width="0.25" stroke-linejoin="round" transform="translate(527.3,676.2) scale(1,1.035)" font-size="20.5">0</text>
<path stroke-width="25.0" stroke-linejoin="round" transform="translate(560.1,676.2) scale(0.01001,-0.01001)" d="M763 0H583V1147Q518 1085 412.5 1023Q307 961 223 930V1104Q374 1175 487 1276Q600 1377 647 1472H763Z"/>
<text stroke-width="0.25" stroke-linejoin="round" transform="translate(571.5,676.2) scale(1,1.035)" font-size="20.5">0</text>
<text stroke-width="0.25" stroke-linejoin="round" transform="translate(602.5,676.2) scale(1,1.035)" font-size="20.5">20</text>
<text stroke-width="0.25" stroke-linejoin="round" transform="translate(645,676.2) scale(1,1.035)" font-size="20.5">30</text>
<text stroke-width="0.25" stroke-linejoin="round" transform="translate(686.6,676.2) scale(1,1.035)" font-size="20.5">40</text>
<text stroke-width="0.25" stroke-linejoin="round" transform="translate(729.1,676.2) scale(1,1.035)" font-size="20.5">50</text>
<text stroke-width="0.25" stroke-linejoin="round" transform="translate(770,676.2) scale(1,1.035)" font-size="20.5">60</text>
<line x1="552.8" y1="498.2" x2="552.8" y2="547" stroke-width="2.0"/>
<line x1="548.05" y1="498.2" x2="557.55" y2="498.2" stroke-width="2.5"/>
<line x1="548.05" y1="547" x2="557.55" y2="547" stroke-width="2.5"/>
<line x1="595.1" y1="541.3" x2="595.1" y2="566" stroke-width="2.0"/>
<line x1="590.35" y1="541.3" x2="599.85" y2="541.3" stroke-width="2.5"/>
<line x1="590.35" y1="566" x2="599.85" y2="566" stroke-width="2.5"/>
<line x1="657.4" y1="561" x2="657.4" y2="580" stroke-width="2.0"/>
<line x1="652.65" y1="561" x2="662.15" y2="561" stroke-width="2.5"/>
<line x1="652.65" y1="580" x2="662.15" y2="580" stroke-width="2.5"/>
<line x1="720" y1="564.4" x2="720" y2="588" stroke-width="2.0"/>
<line x1="715.25" y1="564.4" x2="724.75" y2="564.4" stroke-width="2.5"/>
<line x1="715.25" y1="588" x2="724.75" y2="588" stroke-width="2.5"/>
<line x1="552.8" y1="494.6" x2="552.8" y2="536.8" stroke-width="2.0"/>
<line x1="548.05" y1="494.6" x2="557.55" y2="494.6" stroke-width="2.5"/>
<line x1="548.05" y1="536.8" x2="557.55" y2="536.8" stroke-width="2.5"/>
<line x1="782" y1="564.4" x2="782" y2="578.8" stroke-width="2.0"/>
<line x1="777.25" y1="564.4" x2="786.75" y2="564.4" stroke-width="2.5"/>
<line x1="777.25" y1="578.8" x2="786.75" y2="578.8" stroke-width="2.5"/>
<polyline points="531.8,494.3 552.8,523.9 595.1,553.5 657.4,571.5 720,578.4 782.6,586" fill="none" stroke-width="2.6" stroke-linejoin="round"/>
<ellipse cx="552.8" cy="523.9" rx="6.3" ry="6.7" fill="#fff" stroke-width="2.0"/>
<ellipse cx="595.1" cy="553.5" rx="6.3" ry="6.7" fill="#fff" stroke-width="2.0"/>
<ellipse cx="657.4" cy="571.5" rx="6.3" ry="6.7" fill="#fff" stroke-width="2.0"/>
<ellipse cx="720" cy="578.4" rx="6.3" ry="6.7" fill="#fff" stroke-width="2.0"/>
<ellipse cx="782.6" cy="586" rx="6.3" ry="6.7" fill="#fff" stroke-width="2.0"/>
<polyline points="531.8,494.3 552.8,515.8 595.1,547.5 657.4,570.8 719.6,571.6 782,571.6" fill="none" stroke-width="2.6" stroke-linejoin="round"/>
<ellipse cx="531.8" cy="494.3" rx="7.0" ry="7.4" fill="#000" stroke="none"/>
<ellipse cx="552.8" cy="515.8" rx="7.0" ry="7.4" fill="#000" stroke="none"/>
<ellipse cx="595.1" cy="547.5" rx="7.0" ry="7.4" fill="#000" stroke="none"/>
<ellipse cx="657.4" cy="570.8" rx="7.0" ry="7.4" fill="#000" stroke="none"/>
<ellipse cx="719.6" cy="571.6" rx="7.0" ry="7.4" fill="#000" stroke="none"/>
<ellipse cx="782" cy="571.6" rx="7.0" ry="7.4" fill="#000" stroke="none"/>
<line x1="296.6" y1="94.75" x2="345.9" y2="94.75" stroke-width="2.25"/>
<ellipse cx="323.6" cy="96.4" rx="6.6" ry="7.4" fill="#fff" stroke-width="2.2"/>
<line x1="296.9" y1="116.5" x2="345.9" y2="116.5" stroke-width="2.25"/>
<ellipse cx="323" cy="118.4" rx="7.5" ry="8.25" fill="#000" stroke="none"/>
<text stroke-width="0.25" stroke-linejoin="round" transform="translate(355,105.6) scale(1,1.035)" font-size="20">WT</text>
<text stroke-width="0.25" stroke-linejoin="round" transform="translate(351.5,127.2) scale(1,1.035)" font-size="20" letter-spacing="0.35">TDT-/-</text>
<path stroke-width="18.3" stroke-linejoin="round" transform="translate(4.85,170) scale(0.01367,-0.01367)" d="M763 0H583V1147Q518 1085 412.5 1023Q307 961 223 930V1104Q374 1175 487 1276Q600 1377 647 1472H763Z"/>
<text stroke-width="0.25" stroke-linejoin="round" transform="translate(56.8,170) scale(1,0.99)" font-size="28">d</text>
<path stroke-width="18.3" stroke-linejoin="round" transform="translate(72.37,170) scale(0.01367,-0.01367)" d="M763 0H583V1147Q518 1085 412.5 1023Q307 961 223 930V1104Q374 1175 487 1276Q600 1377 647 1472H763Z"/>
<text stroke-width="0.25" stroke-linejoin="round" transform="translate(87.94,170) scale(1,1.035)" font-size="28">0</text>
<path stroke-width="18.3" stroke-linejoin="round" transform="translate(4.6,372.5) scale(0.01367,-0.01367)" d="M763 0H583V1147Q518 1085 412.5 1023Q307 961 223 930V1104Q374 1175 487 1276Q600 1377 647 1472H763Z"/>
<text stroke-width="0.25" stroke-linejoin="round" transform="translate(56,372.5) scale(1,0.99)" font-size="28">d</text>
<text stroke-width="0.25" stroke-linejoin="round" transform="translate(71.57,372.5) scale(1,1.035)" font-size="28">33</text>
<text stroke-width="0.25" stroke-linejoin="round" transform="translate(11.5,590) scale(1,1.035)" font-size="28">2</text>
<text stroke-width="0.25" stroke-linejoin="round" transform="translate(63.7,590) scale(1,0.99)" font-size="28">d</text>
<text stroke-width="0.25" stroke-linejoin="round" transform="translate(79.27,590) scale(1,1.035)" font-size="28">8</text>
<ellipse cx="24.95" cy="151.25" rx="3.4" ry="3.2" fill="none" stroke-width="1.0"/>
<ellipse cx="24.5" cy="355.0" rx="3.4" ry="3.2" fill="none" stroke-width="1.0"/>
<ellipse cx="32.55" cy="571.45" rx="3.4" ry="3.2" fill="none" stroke-width="1.0"/>
</g>
<g stroke="#000" stroke-width="0.25" stroke-linejoin="round" fill="#000">
<text transform="translate(272.3,28.9) scale(1,1.035)" font-size="28">D<tspan font-size="16.5" dy="-6.4">b</tspan><tspan dy="6.4">NP</tspan><tspan font-size="17" dy="7.2">366</tspan></text>
<text transform="translate(608.8,28.9) scale(1,1.035)" font-size="28">D<tspan font-size="16.5" dy="-6.4">b</tspan><tspan dy="6.4">PA</tspan><tspan font-size="17" dy="7.2">224</tspan></text>
<text transform="translate(129.2,501.5) rotate(-90) scale(1,0.99)" font-size="27.8">% of maximum binding</text>
<text transform="translate(430,722.3) scale(1,1.02)" font-size="28">Time (min)</text>
</g>
</svg>
</body></html>
